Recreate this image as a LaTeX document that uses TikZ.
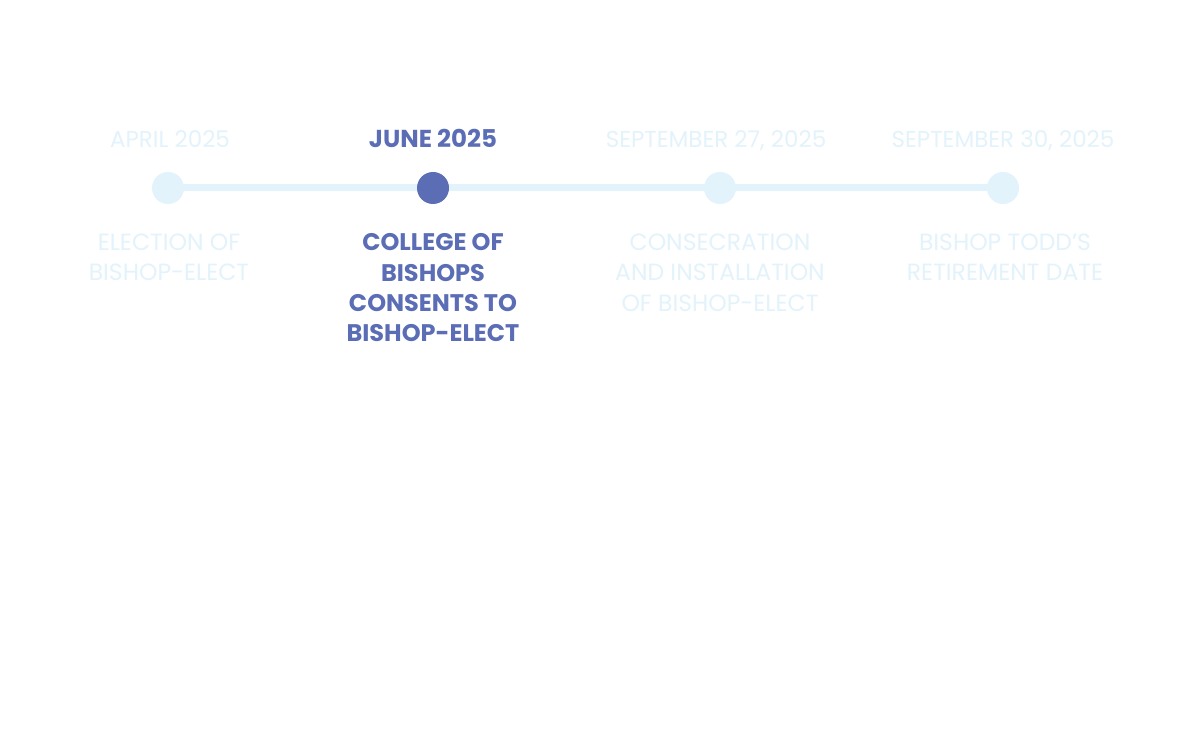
\documentclass[tikz,border=0pt]{standalone}
\usepackage{fontspec}
\setmainfont{Poppins}
\definecolor{pale}{HTML}{E3F3FC}
\definecolor{deep}{HTML}{5A6DB5}
\begin{document}
\begin{tikzpicture}[x=1pt,y=-1pt,
  dot/.style={circle,inner sep=0pt,minimum size=32pt},
  datelbl/.style={font=\fontsize{23}{26}\selectfont,anchor=base},
  desclbl/.style={font=\fontsize{23.5}{30.4}\selectfont,align=center,anchor=north,inner sep=0pt}]
\useasboundingbox[fill=white] (0,0) rectangle (1200,743);
\coordinate (p1) at (168,188);
\coordinate (p2) at (433,188);
\coordinate (p3) at (720,188);
\coordinate (p4) at (1003,188);
\draw[pale,line width=7pt] (p1) -- (p4);
\node[dot,fill=pale] (d1) at (p1) {};
\node[dot,fill=deep] (d2) at (p2) {};
\node[dot,fill=pale] (d3) at (p3) {};
\node[dot,fill=pale] (d4) at (p4) {};
\node[datelbl,text=pale] (t1) at (170,147.5) {APRIL 2025};
\node[datelbl,text=deep,font=\fontsize{24.5}{26}\selectfont\bfseries] (t2) at (433,147.5) {JUNE 2025};
\node[datelbl,text=pale] (t3) at (716,147.5) {SEPTEMBER 27, 2025};
\node[datelbl,text=pale] (t4) at (1003,147.5) {SEPTEMBER 30, 2025};
\node[desclbl,text=pale] (b1) at (169,233.5) {ELECTION OF\\BISHOP-ELECT};
\node[desclbl,text=deep,font=\fontsize{24}{30.4}\selectfont\bfseries] (b2) at (433,233.5) {COLLEGE OF\\BISHOPS\\CONSENTS TO\\BISHOP-ELECT};
\node[desclbl,text=pale] (b3) at (720,233.5) {CONSECRATION\\AND INSTALLATION\\OF BISHOP-ELECT};
\node[desclbl,text=pale] (b4) at (1005,233.5) {BISHOP TODD'S\\RETIREMENT DATE};
\end{tikzpicture}
\end{document}
